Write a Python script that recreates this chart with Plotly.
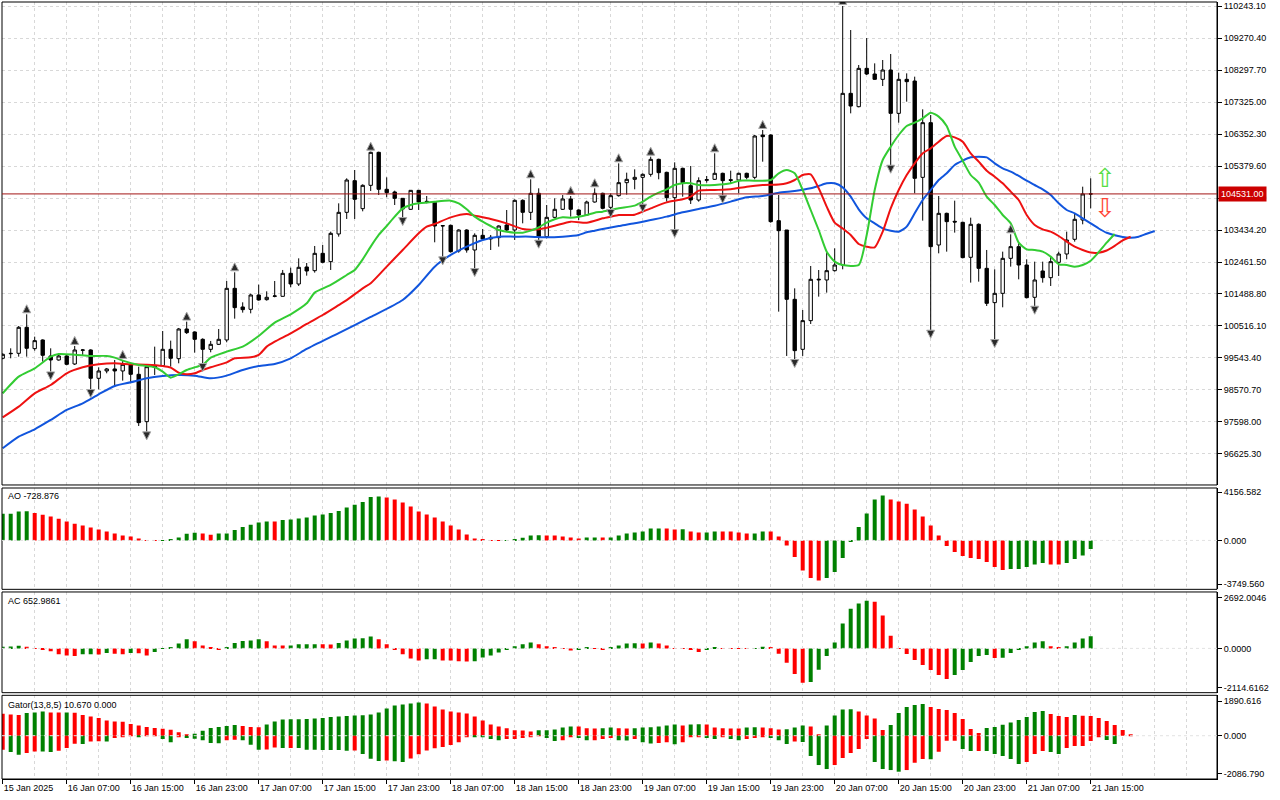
import plotly.graph_objects as go

# ---- data (hourly bars, 15 Jan 23:00 -> 21 Jan 15:00) ----
time_labels = ["15 Jan 2025", "16 Jan 07:00", "16 Jan 15:00", "16 Jan 23:00", "17 Jan 07:00",
               "17 Jan 15:00", "17 Jan 23:00", "18 Jan 07:00", "18 Jan 15:00", "18 Jan 23:00",
               "19 Jan 07:00", "19 Jan 15:00", "19 Jan 23:00", "20 Jan 07:00", "20 Jan 15:00",
               "20 Jan 23:00", "21 Jan 07:00", "21 Jan 15:00"]
label_bars = list(range(0, 137, 8))

opens = [99534, 99686, 99686, 100476, 99828, 100091, 99605, 99483, 99605, 99361,
         99777, 99787, 98926, 99149, 99210, 99149, 99351, 99047, 97608, 99260,
         99311, 99807, 99523, 100425, 100334, 100111, 99807, 99959, 100091, 101661,
         101094, 101023, 101459, 101317, 101418, 101418, 102117, 101793, 102310, 102198,
         102725, 102472, 103313, 103971, 104934, 104083, 104792, 105795, 104671, 104590,
         104397, 104063, 104640, 104306, 104275, 103556, 103576, 102796, 103434, 102826,
         103272, 103161, 103201, 103586, 103434, 104336, 103971, 104549, 103232, 103819,
         104063, 104377, 104042, 103890, 104285, 104549, 104123, 104478, 104873, 104974,
         105035, 105126, 105582, 105187, 104417, 105309, 104782, 104346, 104944, 104974,
         105157, 104964, 104954, 105157, 105035, 106322, 106322, 103718, 103434, 101327,
         99807, 100679, 101915, 101915, 102198, 102370, 107588, 107183, 108348, 108176,
         108014, 108298, 106980, 108014, 107963, 105035, 106697, 102978, 103941, 103698,
         103667, 102604, 103607, 102269, 101226, 101509, 102573, 102928, 102370, 101388,
         102188, 101985, 102452, 102705, 103151, 103738, 104529]
highs = [99686, 99838, 100516, 100871, 100192, 100111, 99838, 99655, 99665, 99909,
         99817, 99807, 99260, 99240, 99483, 99483, 99382, 99280, 99321, 99888,
         100364, 100071, 100456, 100648, 100354, 100142, 100061, 100425, 101884, 102148,
         101236, 101499, 101773, 101570, 101884, 102219, 102289, 102573, 102431, 102948,
         102978, 103384, 104245, 105005, 105258, 104823, 105815, 105815, 105035, 104630,
         104407, 104650, 104650, 104468, 104296, 103586, 103597, 103455, 103455, 103333,
         103465, 103283, 103576, 104042, 104367, 104367, 104975, 104701, 104194, 104397,
         104498, 104468, 104063, 104326, 104701, 104569, 104549, 105461, 105177, 105278,
         105157, 105663, 105603, 105207, 105491, 105329, 105380, 105035, 105076, 105765,
         105177, 105238, 105177, 105177, 106322, 106474, 106342, 104498, 103434, 101661,
         101003, 102340, 102218, 102745, 102877, 110243, 109513, 108450, 109270, 108500,
         108602, 108784, 108217, 108196, 108095, 107102, 106930, 104468, 103961, 104326,
         103688, 103809, 103637, 102827, 102239, 102776, 103303, 103029, 102543, 102472,
         102472, 102624, 102776, 103384, 103941, 104751, 105005]
lows = [99503, 99534, 99584, 99584, 99767, 99432, 99128, 99463, 99321, 99331,
        99635, 98591, 98591, 99078, 98672, 98855, 98774, 97477, 97305, 99027,
        99280, 99280, 99382, 100273, 99706, 99382, 99716, 99939, 100020, 100739,
        100922, 100901, 101287, 101287, 101388, 101408, 101692, 101732, 102046, 102138,
        102421, 102219, 103232, 103769, 103769, 104002, 104620, 104498, 104427, 104194,
        103819, 104042, 104042, 104245, 103060, 102624, 102745, 102745, 102745, 102269,
        103151, 102826, 102928, 103374, 103131, 103637, 103738, 103131, 103181, 103789,
        104042, 103840, 103738, 103860, 104265, 104063, 104063, 104448, 104508, 104671,
        104225, 105056, 104975, 104296, 103455, 104448, 104225, 104296, 104873, 104954,
        104498, 104853, 104549, 104974, 104974, 105511, 103657, 100952, 99605, 99503,
        99605, 100577, 101408, 101530, 102168, 102239, 106980, 107163, 108146, 107994,
        107811, 105410, 106697, 107335, 104549, 103718, 100395, 102725, 102776, 103354,
        102573, 101834, 101864, 101124, 100111, 101084, 102320, 101935, 101357, 101124,
        101834, 101732, 102036, 102543, 103080, 103607, 104093]
closes = [99655, 99676, 100476, 99838, 100071, 99625, 99483, 99605, 99351, 99787,
          99787, 98926, 99149, 99210, 99149, 99351, 99047, 97578, 99280, 99301,
          99807, 99534, 100425, 100314, 100111, 99807, 99959, 100111, 101661, 101074,
          101013, 101459, 101307, 101388, 101428, 102117, 101793, 102300, 102188, 102725,
          102452, 103333, 103971, 104954, 104367, 104792, 105795, 104671, 104569, 104397,
          104073, 104640, 104285, 104296, 103556, 103566, 102776, 103434, 102826, 103272,
          103161, 103212, 103556, 103434, 104336, 103971, 104549, 103232, 103819, 104063,
          104377, 104063, 103890, 104285, 104549, 104093, 104478, 104873, 104974, 105035,
          105126, 105582, 105177, 104417, 105309, 104873, 104346, 104934, 104964, 105157,
          104934, 104944, 105157, 105035, 106292, 106271, 103688, 103414, 101327, 99767,
          100679, 101935, 101935, 102198, 102370, 107588, 107203, 108348, 108176, 108014,
          108298, 106980, 108014, 107943, 105005, 106697, 102928, 103941, 103688, 103677,
          102594, 103607, 102269, 101205, 101509, 102573, 102928, 102370, 101377, 101915,
          101985, 102472, 102705, 103130, 103759, 104529, 104531]
last_price = 104531.00

frac_up = [3, 9, 15, 23, 29, 46, 66, 71, 74, 77, 81, 89, 95, 105, 126]
frac_dn = [6, 11, 18, 25, 50, 55, 59, 67, 76, 80, 84, 90, 99, 111, 116, 124, 129]

# Alligator (jaw 13/8, teeth 8/5, lips 5/3), already shifted forward
jaw_bar = [0, 2, 4, 6, 8, 10, 12, 14, 16, 18, 20, 22, 24, 26, 28, 30, 32, 34, 36, 38,
           42, 46, 50, 52, 54, 56, 58, 60, 62, 64, 66, 68, 70, 72, 73, 74, 75, 77, 79, 81,
           83, 85, 87, 89, 91, 93, 95, 97, 99, 101, 102, 103, 104, 105, 106, 107, 108, 109,
           110, 111, 112, 113, 114, 115, 116, 117, 118, 119, 120, 121, 122, 123, 124, 125,
           126, 127, 128, 129, 130, 131, 132, 133, 134, 135, 136, 137, 138, 140, 141, 142,
           143, 144]
jaw_val = [96798, 97153, 97375, 97659, 97963, 98166, 98439, 98693, 98804, 98926, 98996,
           99027, 99007, 98926, 99007, 99179, 99301, 99361, 99534, 99817, 100300, 100790,
           101307, 101763, 102320, 102675, 102928, 103131, 103232, 103232, 103232, 103212,
           103232, 103283, 103364, 103414, 103465, 103556, 103637, 103738, 103840, 103971,
           104073, 104174, 104296, 104427, 104468, 104569, 104620, 104701, 104772, 104853,
           104853, 104731, 104447, 104062, 103789, 103637, 103485, 103414, 103384, 103536,
           103941, 104346, 104650, 104954, 105157, 105410, 105542, 105643, 105663, 105643,
           105461, 105309, 105208, 105076, 104934, 104802, 104670, 104498, 104245, 104042,
           103941, 103789, 103637, 103480, 103350, 103220, 103200, 103230, 103320, 103404]

teeth_bar = [0, 2, 4, 6, 8, 10, 12, 14, 16, 18, 20, 21, 22, 23, 24, 25, 26, 28, 29, 31,
             32, 33, 34, 36, 38, 40, 42, 43, 45, 46, 48, 50, 52, 53, 54, 56, 58, 59, 61, 63,
             65, 67, 69, 71, 73, 75, 76, 77, 79, 81, 83, 85, 86, 87, 89, 91, 93, 95, 97, 98,
             99, 100, 101, 102, 103, 104, 105, 106, 107, 108, 109, 110, 111, 112, 113, 114,
             115, 116, 117, 118, 119, 120, 121, 122, 123, 124, 125, 126, 127, 128, 129, 130,
             131, 132, 133, 134, 135, 136, 137, 138, 139, 140, 141]
teeth_val = [97740, 98065, 98470, 98723, 99078, 99260, 99351, 99382, 99351, 99340, 99301,
             99250, 99098, 99047, 99078, 99179, 99260, 99412, 99534, 99564, 99635, 99888,
             100040, 100293, 100577, 100850, 101150, 101300, 101661, 101814, 102320, 102827,
             103333, 103536, 103617, 103819, 103921, 103870, 103769, 103637, 103465, 103455,
             103566, 103688, 103657, 103789, 103840, 103890, 103900, 104093, 104275, 104367,
             104448, 104630, 104650, 104670, 104752, 104802, 104815, 104853, 104954, 105106,
             105126, 104701, 104144, 103657, 103480, 103283, 103009, 102928, 102907, 103384,
             104093, 104650, 105106, 105461, 105765, 105917, 106119, 106292, 106251, 106119,
             105765, 105511, 105238, 105055, 104853, 104599, 104346, 103890, 103587, 103455,
             103384, 103252, 103080, 102928, 102826, 102750, 102745, 102810, 102950, 103120,
             103230]

lips_bar = [0, 2, 4, 6, 7, 9, 11, 13, 14, 15, 17, 19, 20, 21, 22, 23, 24, 25, 26, 28,
            30, 32, 34, 36, 38, 39, 41, 43, 44, 45, 46, 47, 48, 49, 50, 51, 52, 54, 56, 57,
            58, 59, 60, 61, 62, 63, 64, 65, 66, 67, 68, 69, 70, 71, 72, 73, 74, 75, 77, 79,
            80, 81, 82, 83, 84, 85, 86, 87, 89, 91, 92, 94, 96, 97, 98, 99, 100, 101, 102,
            103, 104, 105, 107, 108, 109, 110, 111, 112, 113, 114, 115, 116, 117, 118, 119,
            120, 121, 122, 123, 124, 125, 126, 127, 128, 129, 130, 131, 132, 133, 134, 135,
            136, 137, 138, 139]
lips_val = [98470, 98976, 99230, 99584, 99665, 99645, 99605, 99605, 99554, 99463, 99331,
            99260, 99128, 98946, 99047, 99179, 99260, 99331, 99554, 99736, 99888, 100212,
            100618, 100871, 101205, 101530, 101763, 102066, 102219, 102543, 102928, 103283,
            103556, 103840, 104093, 104194, 104245, 104296, 104326, 104245, 104063, 103840,
            103688, 103556, 103435, 103384, 103354, 103354, 103414, 103516, 103657, 103759,
            103819, 103810, 103840, 103890, 103961, 103992, 104093, 104174, 104296, 104448,
            104569, 104671, 104802, 104853, 104853, 104802, 104802, 104853, 104934, 104934,
            104954, 105157, 105258, 105157, 104650, 104042, 103434, 102776, 102472, 102370,
            102370, 103282, 104650, 105562, 105967, 106322, 106596, 106697, 106829, 107001,
            106880, 106596, 105967, 105542, 105106, 104873, 104448, 104194, 103890, 103637,
            103050, 102847, 102827, 102776, 102624, 102391, 102370, 102320, 102370, 102500,
            102760, 103050, 103312]

ao = [2292, 2300, 2493, 2500, 2349, 2206, 2063, 1862, 1633, 1433, 1289, 1117, 945, 774,
      602, 430, 344, 172, 29, -10, 29, 86, 258, 573, 659, 602, 487, 602, 605, 888, 1146,
      1347, 1547, 1633, 1620, 1748, 1805, 1891, 1977, 2149, 2235, 2349, 2521, 2836, 3066,
      3295, 3725, 3782, 3696, 3524, 3266, 2922, 2493, 2235, 1977, 1633, 1289, 945, 516,
      172, 86, 10, -20, -10, 86, 229, 430, 440, 430, 425, 344, 258, 172, 258, 260, 255,
      260, 430, 602, 688, 774, 1031, 1035, 1025, 945, 950, 774, 688, 690, 774, 770, 765,
      688, 602, 605, 774, 770, 344, -430, -1433, -2579, -3238, -3438, -3238, -2722,
      -1518, -143, 1146, 2321, 3524, 3868, 3524, 3352, 3152, 2664, 2063, 1289, 430, -487,
      -1003, -1347, -1518, -1604, -1862, -2292, -2550, -2464, -2460, -2292, -2063, -1948,
      -2063, -2070, -1948, -1604, -1289, -729]

ac = [89, 95, 142, 89, -18, -36, -160, -320, -374, -409, -320, -315, -325, -249, -285,
      -320, -249, -255, -374, -196, -18, 36, 267, 481, 374, 160, 53, -36, 36, 285, 392,
      427, 481, 374, 160, 155, 160, 214, 220, 225, 214, 210, 285, 427, 534, 540, 641, 481,
      214, -89, -320, -534, -641, -587, -580, -641, -645, -694, -700, -694, -481, -374,
      -214, -36, 107, 214, 320, 214, 107, 36, -18, -107, -71, 36, -10, -36, 53, 160, 267,
      270, 265, 320, 267, 160, -18, -25, -89, -196, -89, 36, 18, 14, -18, -25, 18, 89, 36,
      -285, -765, -1371, -1833, -1798, -1139, -409, 320, 1335, 2118, 2403, 2545, 2492,
      1762, 676, 18, -303, -623, -890, -1157, -1424, -1638, -1424, -1157, -730, -409,
      -356, -516, -500, -249, -71, 107, 320, 374, 107, 53, 107, 320, 534, 653]

gator_up = [1199, 1163, 1127, 1236, 1272, 1326, 1272, 1265, 1270, 1254, 1127, 1054, 963,
            836, 781, 763, 636, 563, 472, 418, 382, 327, 182, 73, 109, 273, 418, 472, 527,
            581, 527, 472, 465, 618, 781, 890, 895, 900, 905, 945, 963, 1017, 1054, 1072,
            1108, 1112, 1163, 1272, 1490, 1653, 1708, 1762, 1817, 1760, 1599, 1435, 1326,
            1272, 1217, 1054, 836, 618, 509, 400, 291, 285, 236, 291, 295, 345, 454, 509,
            505, 400, 395, 405, 454, 400, 395, 400, 454, 460, 509, 563, 618, 563, 618, 625,
            618, 454, 400, 398, 395, 454, 460, 450, 400, 345, 350, 454, 563, 509, 55, 563,
            1108, 1435, 1440, 1326, 1108, 945, 309, 581, 1236, 1563, 1672, 1726, 1563, 1454,
            1399, 1236, 909, 363, 145, 418, 472, 600, 727, 854, 1017, 1290, 1345, 1181, 1072,
            1017, 1127, 1090, 1072, 963, 800, 581, 309, 55]
gator_dn = [-763, -890, -1036, -945, -854, -860, -890, -818, -672, -436, -445, -309, -300,
            -315, -127, -36, -30, -40, -18, -5, -182, -363, -73, -127, -164, -254, -400,
            -405, -254, -218, -254, -491, -763, -755, -636, -672, -665, -672, -763, -770,
            -775, -780, -785, -818, -810, -1000, -1254, -1381, -1345, -1390, -1435, -1236,
            -1017, -800, -690, -618, -509, -363, -36, -73, -80, -182, -254, -182, -180, -127,
            -36, -10, -127, -291, -254, -73, -127, -254, -250, -182, -127, -254, -258, -182,
            -363, -418, -400, -363, -472, -363, -80, -73, -127, -182, -73, -182, -254, -182,
            -127, -73, -127, -254, -454, -309, -345, -1108, -1599, -1817, -1599, -1217, -945,
            -727, -182, -1435, -1817, -1872, -1962, -1872, -1472, -1272, -1280, -872, -273,
            -270, -727, -836, -830, -840, -999, -1108, -1272, -1544, -1435, -999, -836, -890,
            -999, -672, -563, -560, -291, -50, -236, -454]

price_ticks = [110243.10, 109270.40, 108297.70, 107325.00, 106352.30, 105379.60, 104406.90,
               103434.20, 102461.50, 101488.80, 100516.10, 99543.40, 98570.70, 97598.00, 96625.30]
ao_ticks = [4156.582, 0.0, -3749.560]
ac_ticks = [2692.0046, 0.0, -2114.6162]
gator_ticks = [1890.616, 0.0, -2086.790]

# ---- styling ----
GREEN = "#008000"
RED = "#ff0000"
GRID = "#d8d8d8"
FONT = dict(family="Liberation Sans, Arial, sans-serif", size=9, color="black")


def trend_colors(values):
    cols = [GREEN]
    for prev, cur in zip(values[:-1], values[1:]):
        cols.append(GREEN if cur > prev else RED)
    return cols


def gator_colors(values):
    cols = [RED]
    for prev, cur in zip(values[:-1], values[1:]):
        cols.append(GREEN if abs(cur) > abs(prev) else RED)
    return cols


bars = list(range(len(closes)))

fig = go.Figure()

fig.add_trace(go.Candlestick(
    x=bars, open=opens, high=highs, low=lows, close=closes,
    increasing=dict(line=dict(color="black", width=1), fillcolor="white"),
    decreasing=dict(line=dict(color="black", width=1), fillcolor="black"),
    whiskerwidth=0, xaxis="x", yaxis="y", hoverinfo="skip",
))

for xs, ys, col in [(jaw_bar, jaw_val, "#1155dd"), (teeth_bar, teeth_val, "#ee1111"),
                    (lips_bar, lips_val, "#33cc33")]:
    fig.add_trace(go.Scatter(x=xs, y=ys, mode="lines", line=dict(color=col, width=2, shape="spline",
                                                                  smoothing=0.6),
                             xaxis="x", yaxis="y", hoverinfo="skip"))

fig.add_trace(go.Scatter(
    x=frac_up, y=[highs[i] + 290 for i in frac_up], mode="markers",
    marker=dict(symbol="arrow-up", size=8, color="#2a2a2a", line=dict(color="#a8a8a8", width=1)),
    xaxis="x", yaxis="y", hoverinfo="skip"))
fig.add_trace(go.Scatter(
    x=frac_dn, y=[lows[i] - 250 for i in frac_dn], mode="markers",
    marker=dict(symbol="arrow-down", size=8, color="#2a2a2a", line=dict(color="#a8a8a8", width=1)),
    xaxis="x", yaxis="y", hoverinfo="skip"))

fig.add_trace(go.Bar(x=bars, y=ao, width=0.5, marker=dict(color=trend_colors(ao), line_width=0),
                     xaxis="x", yaxis="y2", hoverinfo="skip"))
fig.add_trace(go.Bar(x=bars, y=ac, width=0.5, marker=dict(color=trend_colors(ac), line_width=0),
                     xaxis="x", yaxis="y3", hoverinfo="skip"))
fig.add_trace(go.Bar(x=list(range(len(gator_up))), y=gator_up, width=0.5,
                     marker=dict(color=gator_colors(gator_up), line_width=0),
                     xaxis="x", yaxis="y4", hoverinfo="skip"))
fig.add_trace(go.Bar(x=list(range(len(gator_dn))), y=gator_dn, width=0.5,
                     marker=dict(color=gator_colors(gator_dn), line_width=0),
                     xaxis="x", yaxis="y4", hoverinfo="skip"))

# pane domains (fractions of the plotting area)
dom_main = [0.3784, 1.0]
dom_ao = [0.2441, 0.3745]
dom_ac = [0.1111, 0.2407]
dom_gator = [0.0, 0.1077]

yax = dict(side="right", anchor="x", showline=True, linecolor="black", linewidth=1,
           ticks="outside", ticklen=4, tickcolor="black", tickfont=FONT, zeroline=False,
           showgrid=False, fixedrange=True)

fig.update_layout(
    width=1280, height=800,
    margin=dict(l=2, r=63, t=2, b=21, autoexpand=False),
    paper_bgcolor="white", plot_bgcolor="white",
    showlegend=False, boxgap=0.4, barmode="overlay",
    xaxis=dict(domain=[0, 1], anchor="y4", range=[-0.0875, 151.7875],
               tickmode="array", tickvals=label_bars, ticktext=time_labels,
               ticks="outside", ticklen=4, tickcolor="black", tickfont=FONT,
               ticklabelposition="outside right",
               showgrid=True, gridcolor=GRID, griddash="3px,3px", gridwidth=1,
               minor=dict(tickmode="linear", tick0=0, dtick=4, showgrid=True, gridcolor=GRID,
                          griddash="3px,3px", ticks=""),
               showline=True, linecolor="black", zeroline=False,
               rangeslider=dict(visible=False), fixedrange=True),
    yaxis=dict(yax, domain=dom_main, range=[95683, 110365],
               tickmode="array", tickvals=price_ticks,
               ticktext=[f"{v:.2f}" for v in price_ticks],
               showgrid=True, gridcolor=GRID, griddash="3px,3px"),
    yaxis2=dict(yax, domain=dom_ao, range=[-4202, 4503], tickmode="array", tickvals=ao_ticks,
                ticktext=[f"{v:.3f}" for v in ao_ticks]),
    yaxis3=dict(yax, domain=dom_ac, range=[-2366, 3012], tickmode="array", tickvals=ac_ticks,
                ticktext=[f"{v:.4f}" for v in ac_ticks]),
    yaxis4=dict(yax, domain=dom_gator, range=[-2360, 2202], tickmode="array",
                tickvals=gator_ticks, ticktext=[f"{v:.3f}" for v in gator_ticks]),
)

shapes = []
for d in (dom_main, dom_ao, dom_ac, dom_gator):
    shapes.append(dict(type="rect", xref="paper", yref="paper", x0=0, x1=1, y0=d[0], y1=d[1],
                       line=dict(color="black", width=1), layer="above"))
for ref in ("y2", "y3", "y4"):
    shapes.append(dict(type="line", xref="paper", yref=ref, x0=0, x1=1, y0=0, y1=0,
                       line=dict(color="#e2e2e2", width=1, dash="3px,3px"), layer="above"))
shapes.append(dict(type="line", xref="paper", yref="y", x0=0, x1=1, y0=last_price, y1=last_price,
                   line=dict(color="#a31515", width=1), layer="above"))
fig.update_layout(shapes=shapes)

annotations = [
    dict(text="AO -728.876", x=0.0033, y=0.3642),
    dict(text="AC 652.9861", x=0.0033, y=0.2291),
    dict(text="Gator(13,8,5) 10.670 0.000", x=0.0033, y=0.0952),
]
for a in annotations:
    fig.add_annotation(xref="paper", yref="paper", xanchor="left", yanchor="middle",
                       showarrow=False, font=FONT, **a)

fig.add_annotation(xref="paper", yref="y", x=1.0008, y=last_price, xanchor="left",
                   yanchor="middle", text=f"{last_price:.2f}", showarrow=False,
                   font=dict(FONT, color="white"), bgcolor="#cc0000", borderpad=2)

# signal arrows to the right of the last bar
fig.add_annotation(xref="x", yref="y", x=137.8, y=104530, text="\u21e7", showarrow=False,
                   yanchor="bottom", borderpad=0,
                   font=dict(family="DejaVu Sans", size=26, color="#55dd44"))
fig.add_annotation(xref="x", yref="y", x=137.8, y=104590, text="\u21e9", showarrow=False,
                   yanchor="top", borderpad=0,
                   font=dict(family="DejaVu Sans", size=26, color="#ff4433"))

# the page has a default 8px body margin; drop it so the figure sits at the window corner
fig.write_html("out.html", config={"displayModeBar": False},
               post_script="document.body.style.margin='0px';")
